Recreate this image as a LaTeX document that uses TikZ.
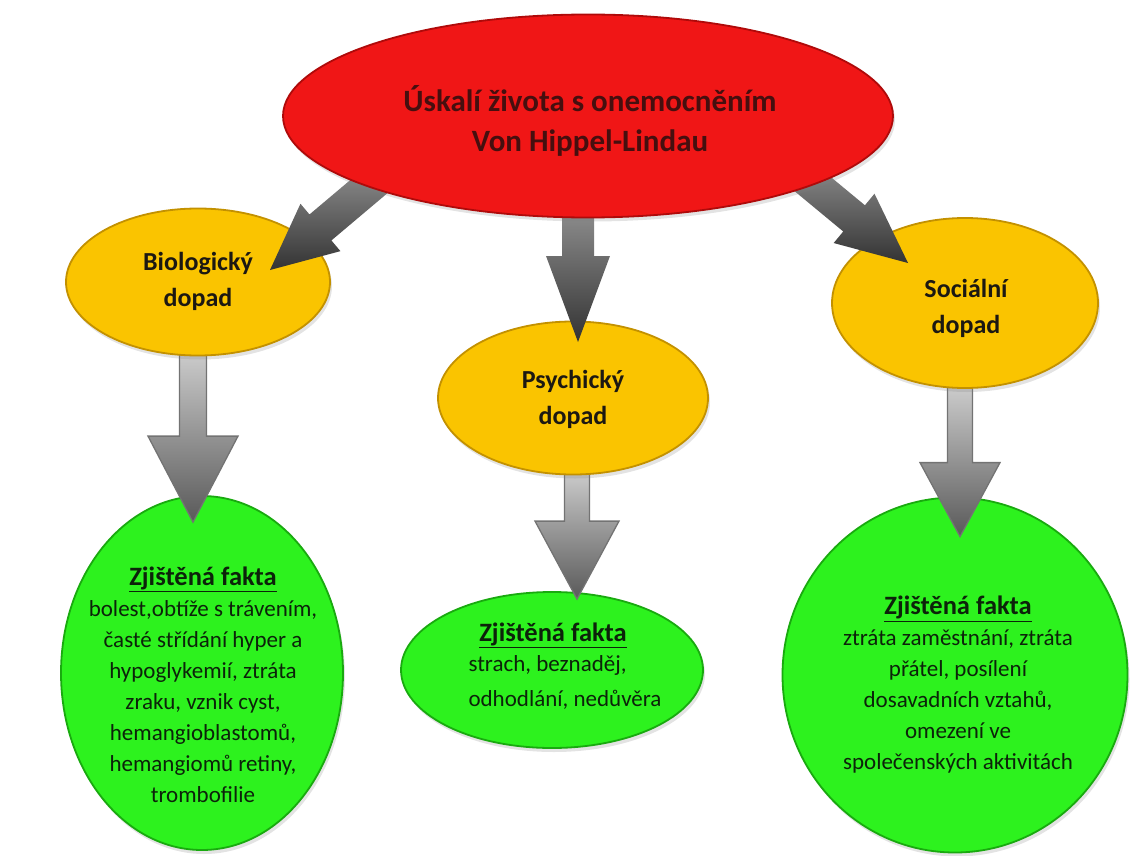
\documentclass[tikz,border=0pt]{standalone}
\usepackage{fontspec}
\setmainfont{Carlito}
\usetikzlibrary{calc,shapes.geometric,shadows}
\pgfdeclarelayer{L1}\pgfdeclarelayer{L2}\pgfdeclarelayer{L3}\pgfdeclarelayer{L4}
\pgfsetlayers{L1,L2,L3,L4,main}
\definecolor{redfill}{RGB}{240,22,22}
\definecolor{redrim}{RGB}{175,10,10}
\definecolor{yelfill}{RGB}{250,196,0}
\definecolor{yelrim}{RGB}{195,145,0}
\definecolor{grnfill}{RGB}{45,242,30}
\definecolor{grnrim}{RGB}{25,170,15}
\definecolor{txtdark}{RGB}{28,24,18}
\definecolor{grntxt}{RGB}{12,35,10}
\definecolor{redtxt}{RGB}{70,15,15}
\newcommand\grnheadfont{\fontsize{26.5}{31}\selectfont\bfseries}
% #1 style, #2 start, #3 tip, #4 half shaft width, #5 half head width, #6 head length
\newcommand\blockarrow[6]{%
  \coordinate (tmpB) at ($(#3)!#6!(#2)$);
  \path[#1] ($(#2)!#4!90:(#3)$) -- ($(tmpB)!#4!90:(#3)$) -- ($(tmpB)!#5!90:(#3)$)
    -- (#3) -- ($(tmpB)!#5!-90:(#3)$) -- ($(tmpB)!#4!-90:(#3)$) -- ($(#2)!#4!-90:(#3)$) -- cycle;}
\begin{document}
\begin{tikzpicture}[x=1pt,y=-1pt,
  blob/.style={ellipse, inner sep=0pt, line width=1.8pt,
    drop shadow={opacity=0.22, shadow xshift=2pt, shadow yshift=-4pt}},
  redblob/.style={blob, fill=redfill, draw=redrim},
  yelblob/.style={blob, fill=yelfill, draw=yelrim},
  grnblob/.style={blob, fill=grnfill, draw=grnrim},
  darkarrow/.style={top color=black!42, bottom color=black!80, draw=none},
  lightarrow/.style={top color=black!20, middle color=black!27, bottom color=black!65,
    draw=black!55, line width=1.3pt, line join=miter},
  redtext/.style={align=center, text=redtxt, font=\fontsize{31}{40}\selectfont\bfseries},
  yeltext/.style={align=center, text=txtdark, font=\fontsize{26}{36}\selectfont\bfseries},
  grntext/.style={align=center, text=grntxt, font=\fontsize{23}{31}\selectfont},
  grnhead/.style={font=\grnheadfont}
]
\useasboundingbox (0,0) rectangle (1132,856);

\begin{pgfonlayer}{L1}
  \node[grnblob, minimum width=282pt, minimum height=354pt] (fb) at (202,673) {};
  \node[grnblob, minimum width=302pt, minimum height=156pt] (fp) at (552,670) {};
  \node[grnblob, minimum width=345pt, minimum height=355pt] (fs) at (955,675) {};
\end{pgfonlayer}

\begin{pgfonlayer}{L3}
  \node[yelblob, minimum width=264pt, minimum height=147pt] (bio) at (198,282) {};
  \node[yelblob, minimum width=270pt, minimum height=153pt] (psy) at (573,398) {};
  \node[yelblob, minimum width=266pt, minimum height=170pt] (soc) at (965,303) {};
\end{pgfonlayer}

\node[redblob, minimum width=610pt, minimum height=203pt] (top) at (588,116) {};

% light arrows (yellow -> green)
\coordinate (l1s) at ($(bio.south)+(-5,-5)$);
\coordinate (l1e) at ($(fb.north)+(-9,27)$);
\coordinate (l2s) at ($(psy.south)+(4,-5)$);
\coordinate (l2e) at ($(fp.north)+(25,8)$);
\coordinate (l3s) at ($(soc.south)+(-5,-3)$);
\coordinate (l3e) at ($(fs.north)+(5,40)$);
\begin{pgfonlayer}{L2}
  \blockarrow{lightarrow}{l1s}{l1e}{13.5pt}{45pt}{86pt}
  \blockarrow{lightarrow}{l2s}{l2e}{12.5pt}{42pt}{78pt}
  \blockarrow{lightarrow}{l3s}{l3e}{12.5pt}{40pt}{74pt}
\end{pgfonlayer}

% dark arrows (red -> yellow)
\coordinate (d1s) at ($(top.center)+(-203,57)$);
\coordinate (d1e) at ($(bio.center)+(72,-12)$);
\coordinate (d2s) at ($(top.center)+(-10,84)$);
\coordinate (d2e) at ($(psy.center)+(5,-56)$);
\coordinate (d3s) at ($(top.center)+(204,51)$);
\coordinate (d3e) at ($(soc.center)+(-57,-40)$);
\begin{pgfonlayer}{L4}
  \blockarrow{darkarrow}{d1s}{d1e}{17pt}{31pt}{66pt}
  \blockarrow{darkarrow}{d2s}{d2e}{16pt}{32pt}{86pt}
  \blockarrow{darkarrow}{d3s}{d3e}{17pt}{32pt}{70pt}
\end{pgfonlayer}

% texts
\node[redtext] (topt) at (590,121) {Úskalí života s onemocněním\\Von Hippel-Lindau};
\node[yeltext] (biot) at (198,281) {Biologický\\dopad};
\node[yeltext] (psyt) at (573,399) {Psychický\\dopad};
\node[yeltext] (soct) at (966,308) {Sociální\\dopad};

\node[grntext] (fbt) at (203,685) {{\grnheadfont\underline{Zjištěná fakta}}\\
  bolest,obtíže s trávením,\\ časté střídání hyper a\\ hypoglykemií, ztráta\\
  zraku, vznik cyst,\\ hemangioblastomů,\\ hemangiomů retiny,\\ trombofilie};
\node[grntext, grnhead] (fph) at (553,635) {\underline{Zjištěná fakta}};
\node[grntext, align=left, anchor=north west, font=\fontsize{23}{35}\selectfont]
  (fpt) at (465,652) {strach, beznaděj,\\odhodlání, nedůvěra};
\node[grntext] (fst) at (958,685) {{\grnheadfont\underline{Zjištěná fakta}}\\
  ztráta zaměstnání, ztráta\\ přátel, posílení\\ dosavadních vztahů,\\
  omezení ve\\ společenských aktivitách};
\end{tikzpicture}
\end{document}
